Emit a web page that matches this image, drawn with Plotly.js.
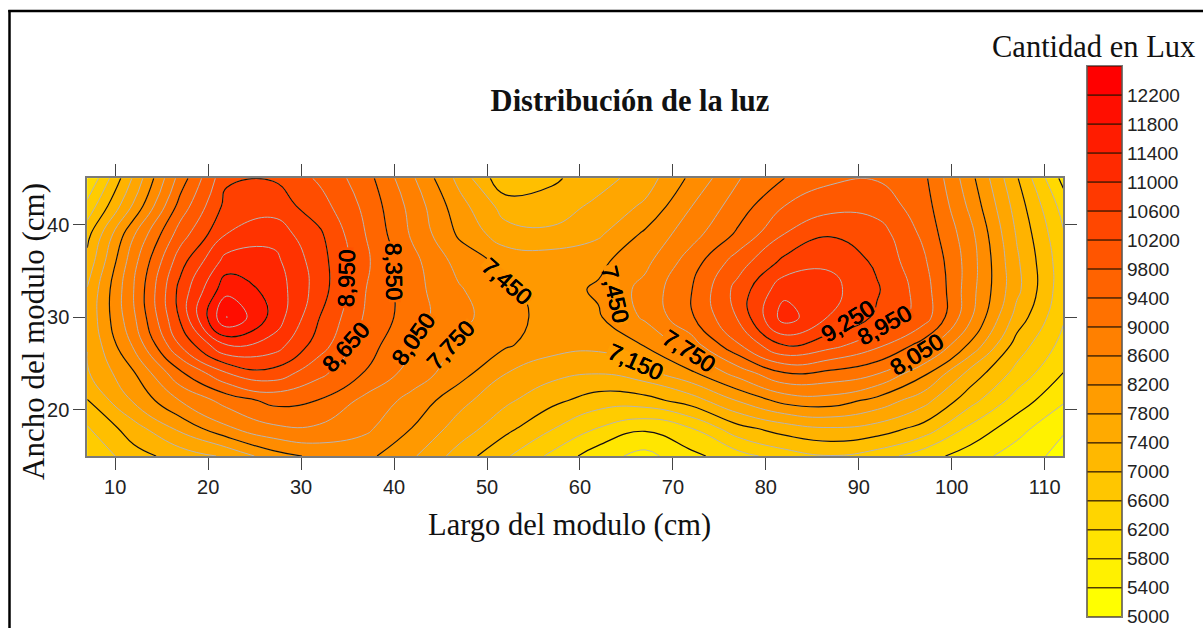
<!DOCTYPE html>
<html><head><meta charset="utf-8">
<script src="https://cdn.plot.ly/plotly-3.0.1.min.js"></script>
<style>html,body{margin:0;padding:0;background:#fff}#chart{width:1203px;height:628px}</style>
</head><body><div id="chart"></div>
<script>
const W=1203,H=628;
const largo=[7,12,17,22,27,32,37,42,47,52,57,62,67,72,77,82,87,92,97,102,107,112];
const ancho=[45,42,39,36,33,30,27,24,21,18,15];
const lux45=[5650,6900,8180,9200,9230,8900,8470,7790,7060,6300,6500,6720,7000,7520,8030,8350,8590,8630,8420,7550,6580,5550];
const lux42=[6040,7200,8470,9350,9420,9080,8570,7940,7270,6720,6680,6930,7200,7745,8200,8650,8850,8820,8500,7680,6720,5830];
const lux39=[6450,7720,8800,9550,9730,9300,8640,8000,7400,6970,6920,7100,7500,7930,8400,8950,9220,9100,8580,7840,6820,5980];
const lux36=[6650,7950,9130,9980,9950,9380,8700,8140,7640,7360,7330,7380,7670,8200,8800,9330,9500,9190,8700,7900,6900,6060];
const lux33=[6870,8050,9350,10350,10050,9400,8650,8160,7780,7500,7330,7490,7850,8340,9060,9750,9640,9280,8800,7870,6930,6060];
const lux30=[6920,8000,9300,10760,10050,9250,8600,8180,7830,7580,7320,7420,7800,8310,8980,10000,9530,9200,8810,7800,6730,5990];
const lux27=[6860,7800,8970,9880,9720,9090,8480,8060,7670,7490,7280,7240,7470,7900,8620,9290,9060,8730,8220,7400,6420,5850];
const lux24=[6820,7430,8300,8950,9150,8730,8330,7920,7580,7160,6950,6870,7050,7410,7880,8350,8280,8090,7530,6750,6150,5650];
const lux21=[6540,7190,7760,8170,8440,8340,7960,7650,7250,6910,6630,6400,6430,6700,7170,7560,7620,7350,6960,6360,5820,5390];
const lux18=[6220,6720,7230,7700,7990,8000,7810,7440,7020,6640,6270,5940,5700,5950,6450,6700,6830,6730,6440,5880,5470,5080];
const lux15=[5980,6430,6680,6900,7320,7530,7530,7190,6720,6290,5880,5470,5250,5570,5830,6100,6240,6100,5780,5500,5200,4960];
const legendBase=[5000,5400,5800,6200,6600,7000,7400,7800,8200,8600,9000,9400,9800,10200,10600,11000,11400,11800,12200];
const legendStep=[400,400,400,400,400,400,400,400,400,400,400,400,400,400,400,400,400,400,400];
const etiquetas=['8,950','8,350','8,650','8,050','7,750','7,450','7,450','7,750','7,150','9,250','8,950','8,050'];
const etiquetaX=[34.9,40,34.8,42.1,46.1,52.2,63.8,71.7,66,88.8,92.8,96.3];
const etiquetaY=[34.2,34.9,26.8,27.6,27,33.8,32.4,26.3,25.2,29.6,29.1,26];
const etiquetaAng=[-89,89,-48,-55,-47,41,77,33,24,-32,-29,-32];
const etiquetaFondo=['#ff5200','#ff6c00','#ff5f00','#ff7900','#ff8600','#ff9300','#ff9300','#ff8600','#ff9f00','#ff4600','#ff5200','#ff7900'];

const tickC='#444', lineC='#7a7a7a';
const frame=[87.3,1063.3,178.3,456];
const fs={family:'"Liberation Serif","Times New Roman",serif',color:'#111'};
const sans={family:'"Liberation Sans",Arial,sans-serif',color:'#222'};
const z=[lux45,lux42,lux39,lux36,lux33,lux30,lux27,lux24,lux21,lux18,lux15];
const scale=[[0,'#ffff00'],[1,'#ff0000']];

const traces=[
 {type:'contour',x:largo,y:ancho,z:z,colorscale:scale,showscale:false,autocontour:false,
  contours:{start:5050,end:10750,size:300,coloring:'fill',showlines:true},
  line:{color:'#b5b5b5',width:1,smoothing:1.3},hoverinfo:'skip',xaxis:'x',yaxis:'y'},
 {type:'contour',x:largo,y:ancho,z:z,showscale:false,autocontour:false,
  contours:{start:5650,end:10150,size:900,coloring:'none',showlines:true},
  line:{color:'#1a1100',width:1.2,smoothing:1.3},hoverinfo:'skip',xaxis:'x',yaxis:'y'},
 {type:'bar',x:legendBase.map(()=>0),y:legendStep,base:legendBase,width:1,
  marker:{color:legendBase,colorscale:scale,cmin:5000,cmax:12200,line:{color:'#2a1500',width:1}},
  hoverinfo:'skip',xaxis:'x2',yaxis:'y2'}
];
const annotations=[];
etiquetas.forEach((t,i)=>annotations.push({text:'&nbsp;',x:etiquetaX[i],y:etiquetaY[i],xref:'x',yref:'y',showarrow:false,
  textangle:etiquetaAng[i],font:{size:10},bgcolor:etiquetaFondo[i],borderpad:0,width:60,height:11}));
etiquetas.forEach((t,i)=>annotations.push({text:t,x:etiquetaX[i],y:etiquetaY[i],xref:'x',yref:'y',showarrow:false,
  textangle:etiquetaAng[i],font:{family:sans.family,size:23,color:'#000',shadow:'0.4px 0 0 #000, -0.4px 0 0 #000'},borderpad:0}));
annotations.push({text:'Cantidad en Lux',xref:'paper',yref:'paper',x:1093.5/W,y:1-47/H,showarrow:false,
  xanchor:'center',yanchor:'middle',font:{family:fs.family,size:30.5,color:'#111'}});
annotations.push({text:'Largo del modulo (cm)',xref:'paper',yref:'paper',x:569/W,y:1-525/H,showarrow:false,
  xanchor:'center',yanchor:'middle',font:{family:fs.family,size:30.5,color:'#111'}});
annotations.push({text:'Ancho del modulo (cm)',xref:'paper',yref:'paper',x:33/W,y:1-332/H,showarrow:false,textangle:-90,
  xanchor:'center',yanchor:'middle',font:{family:fs.family,size:31,color:'#111'}});
const layout={
 width:W,height:H,autosize:false,margin:{l:0,r:0,t:0,b:0,autoexpand:false},
 paper_bgcolor:'#fff',plot_bgcolor:'#fff',showlegend:false,
 title:{text:'<b>Distribución de la luz</b>',x:630/W,xref:'paper',xanchor:'center',y:1-100/H,yref:'paper',yanchor:'middle',font:{family:fs.family,size:30.5,color:'#111'}},
 xaxis:{domain:[frame[0]/W,frame[1]/W],range:[7,112],tickvals:[10,20,30,40,50,60,70,80,90,100,110],ticks:'outside',ticklen:12,tickcolor:tickC,tickwidth:1,
  showline:true,linecolor:lineC,linewidth:2,mirror:'ticks',showgrid:false,zeroline:false,tickfont:{family:sans.family,size:20,color:'#222'},layer:'above traces',anchor:'y'},
 yaxis:{domain:[1-frame[3]/H,1-frame[2]/H],range:[15,45],tickvals:[20,30,40],ticks:'outside',ticklen:12,tickcolor:tickC,tickwidth:1,
  showline:true,linecolor:lineC,linewidth:2,mirror:'ticks',showgrid:false,zeroline:false,tickfont:{family:sans.family,size:20,color:'#222'},layer:'above traces',anchor:'x'},
 xaxis2:{domain:[1087.3/W,1121.7/W],range:[-0.5,0.5],anchor:'y2',showticklabels:false,ticks:'',showgrid:false,zeroline:false,showline:true,linecolor:lineC,linewidth:1.5,mirror:true,layer:'above traces'},
 yaxis2:{domain:[1-616.7/H,1-66/H],range:[5000,12600],anchor:'x2',side:'right',tickvals:legendBase,ticks:'',ticklen:0,showgrid:false,zeroline:false,showline:true,linecolor:lineC,linewidth:1.5,mirror:true,
  tickfont:{family:sans.family,size:19,color:'#222'},tickformat:'d',layer:'above traces'},
 annotations:annotations,
 shapes:[
  {type:'line',xref:'paper',yref:'paper',x0:9.5/W,x1:9.5/W,y0:0,y1:1-10/H,line:{color:'#000',width:2.5}},
  {type:'line',xref:'paper',yref:'paper',x0:8.3/W,x1:1,y0:1-11/H,y1:1-11/H,line:{color:'#000',width:2.5}}
 ]
};
Plotly.newPlot('chart',traces,layout,{displayModeBar:false,staticPlot:true});
</script></body></html>
